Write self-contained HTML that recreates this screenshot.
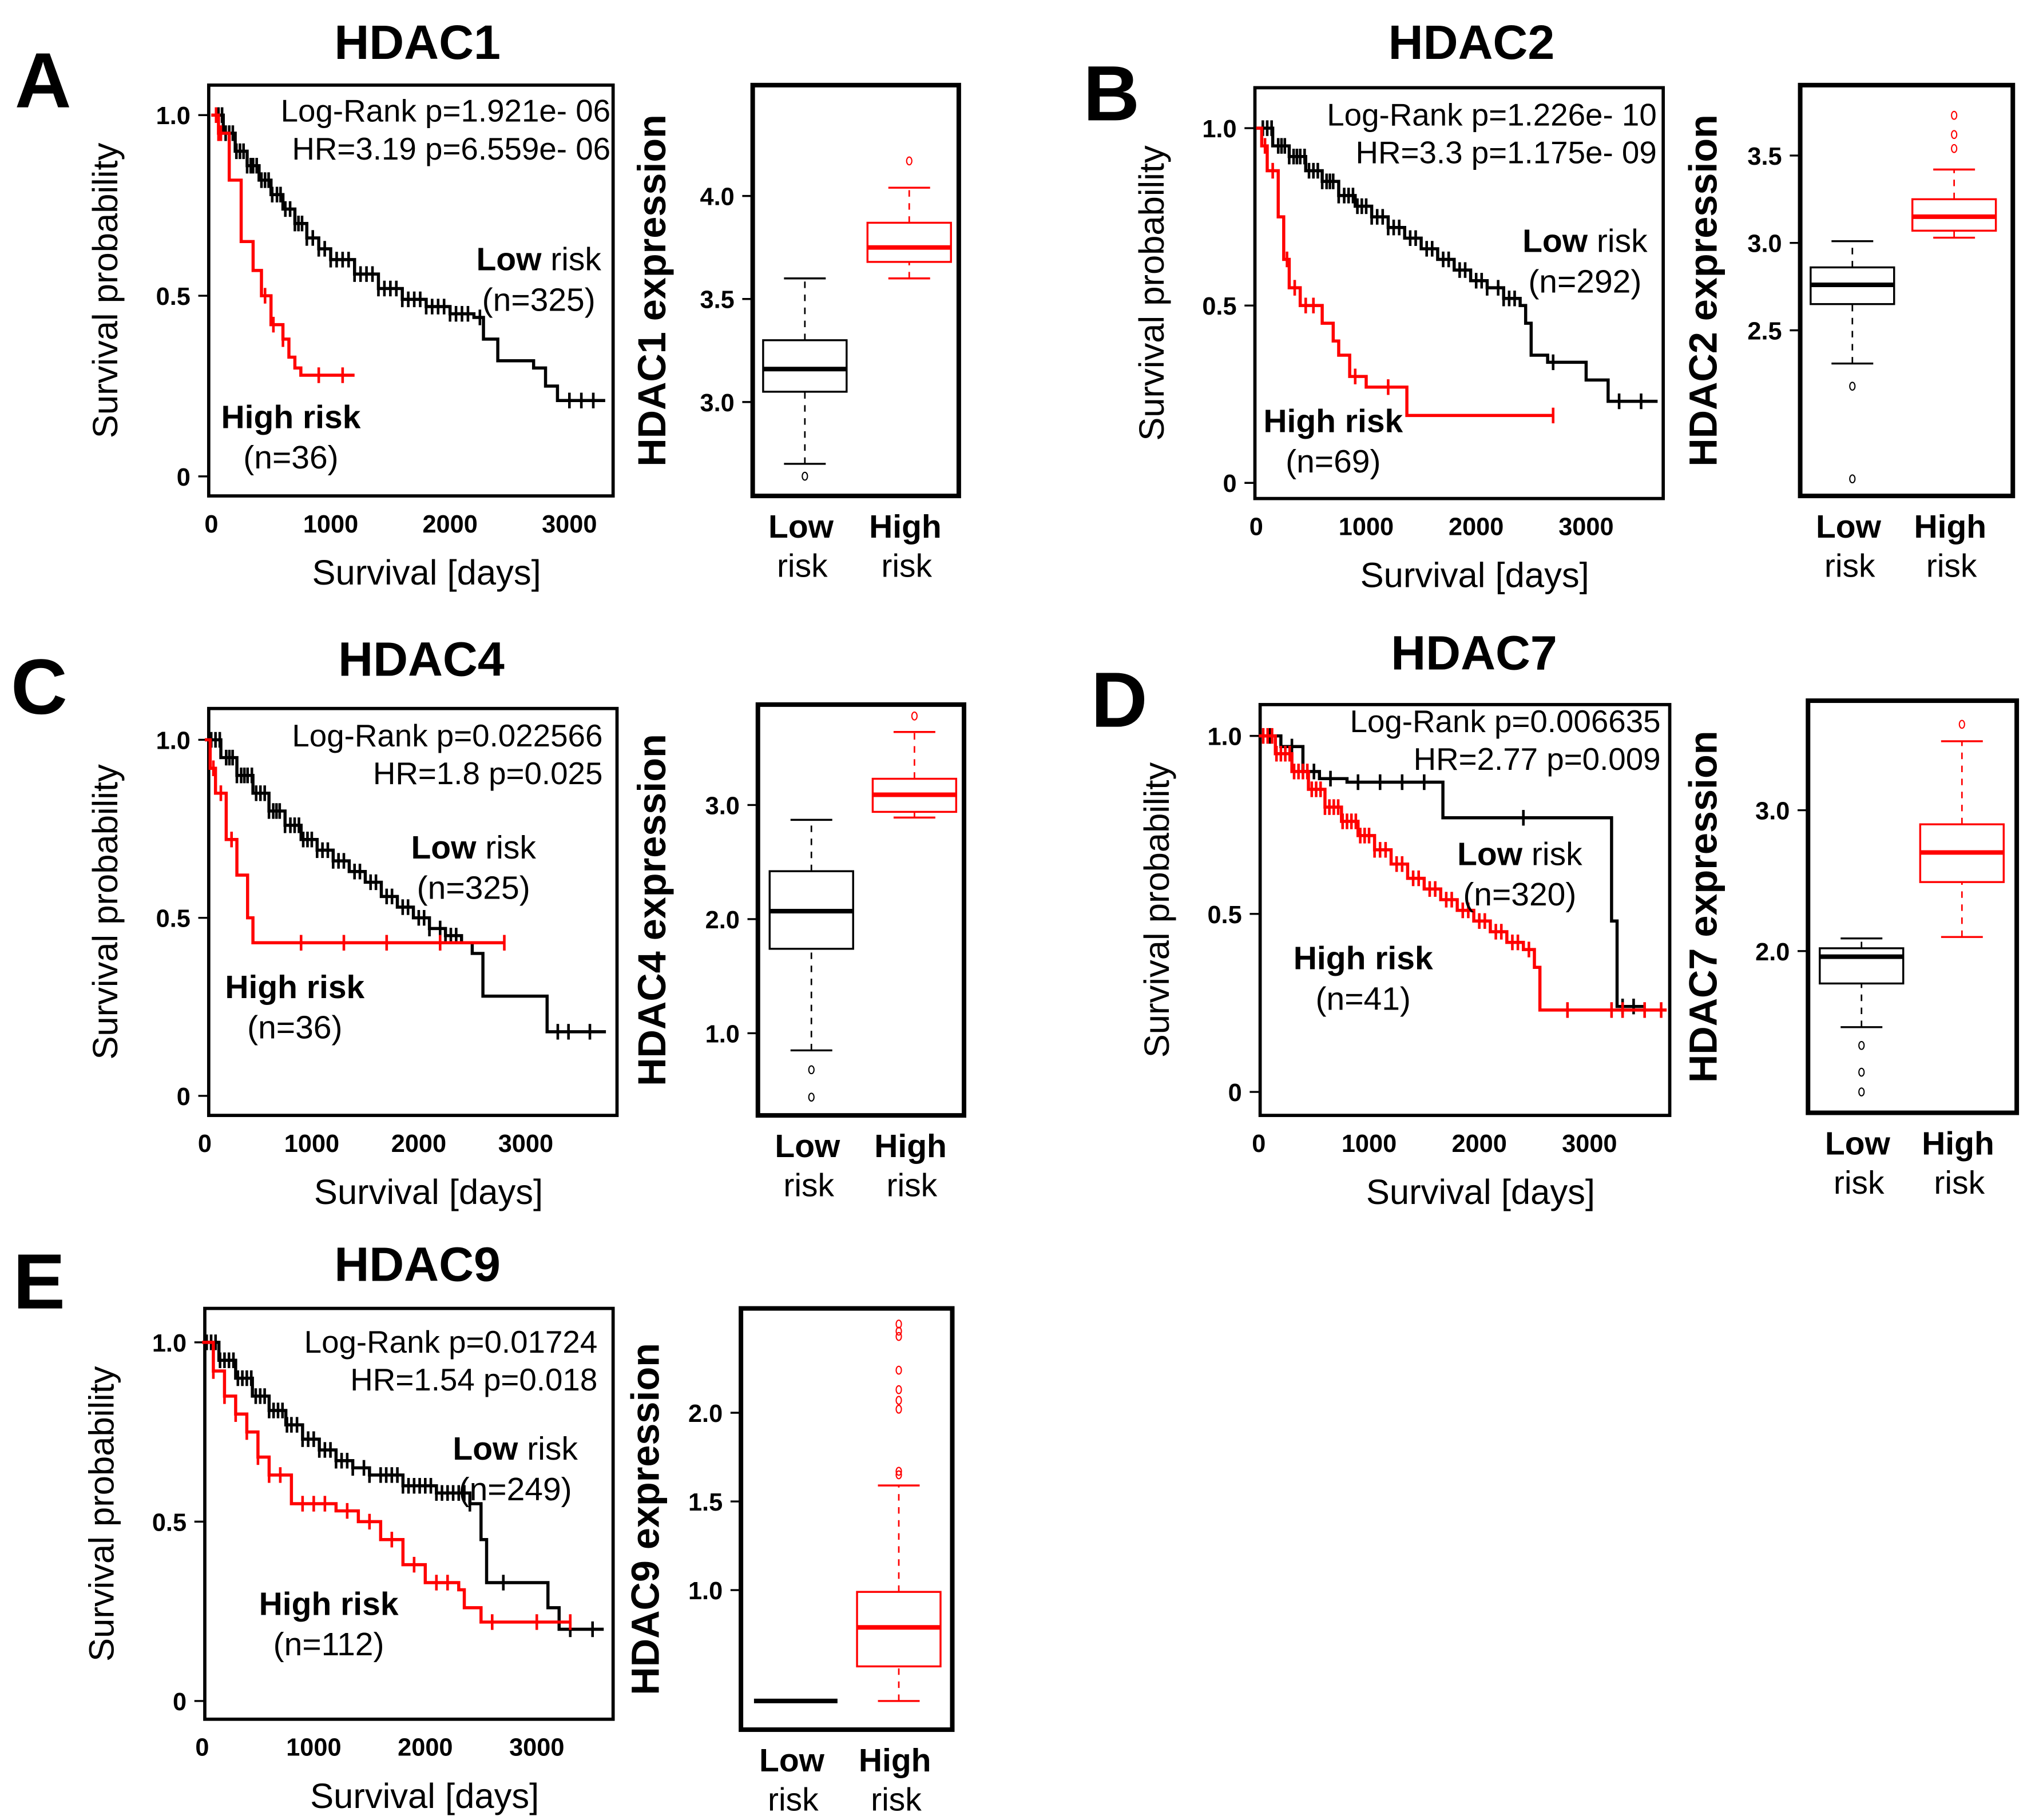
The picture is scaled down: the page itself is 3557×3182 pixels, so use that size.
<!DOCTYPE html>
<html><head><meta charset="utf-8">
<style>
html,body{margin:0;padding:0;background:#fff;}
svg{display:block;font-family:"Liberation Sans",Arial,sans-serif;}
</style></head>
<body>
<svg id="fig" xmlns="http://www.w3.org/2000/svg" width="3557" height="3182" viewBox="0 0 1560 1395">
<rect x="0" y="0" width="1560" height="1395" fill="#fff"/>
</svg>
<script>
// ---------- DATA ----------
const hdac1Low = [[0,1],[100,0.95],[200,0.9],[300,0.86],[400,0.82],[500,0.78],[600,0.74],[700,0.7],[800,0.66],[900,0.63],[1000,0.6],[1200,0.56],[1400,0.52],[1600,0.49],[1800,0.47],[2000,0.45],[2200,0.44],[2280,0.38],[2400,0.32],[2700,0.3],[2800,0.25],[2900,0.21],[3300,0.21]];
const hdac1High = [[0,1],[60,0.95],[150,0.82],[250,0.65],[350,0.57],[420,0.5],[500,0.42],[600,0.38],[650,0.33],[700,0.3],[750,0.28],[1200,0.28]];
const hdac1LowCens = [60,90,120,150,180,210,240,270,300,330,350,380,420,450,480,510,550,580,620,660,700,730,760,800,850,900,950,1000,1050,1100,1150,1200,1250,1300,1350,1400,1450,1500,1550,1600,1650,1700,1750,1800,1850,1900,1950,2000,2050,2100,2150,2250,3000,3100,3200];
const hdac1HighCens = [40,60,80,450,520,600,900,1100];
const hdac2Low = [[0,1],[150,0.95],[300,0.92],[450,0.88],[600,0.85],[750,0.81],[900,0.78],[1050,0.75],[1200,0.72],[1350,0.69],[1500,0.66],[1650,0.63],[1800,0.6],[1950,0.57],[2100,0.55],[2250,0.52],[2400,0.5],[2450,0.45],[2500,0.36],[2650,0.34],[3000,0.29],[3200,0.23],[3650,0.23]];
const hdac2High = [[0,1],[50,0.95],[100,0.88],[200,0.75],[250,0.63],[300,0.55],[400,0.5],[600,0.45],[700,0.4],[750,0.36],[850,0.3],[1000,0.27],[1350,0.27],[1370,0.19],[2700,0.19]];
const hdac2LowCens = [60,100,140,200,230,260,300,340,370,400,440,480,520,560,600,640,670,700,750,800,840,880,920,960,1000,1050,1100,1150,1200,1250,1300,1400,1450,1550,1600,1700,1750,1850,1900,2000,2050,2100,2200,2250,2300,2350,2700,3300,3500];
const hdac2HighCens = [80,150,280,350,450,520,900,1200,2700];
const hdac4Low = [[0,1],[150,0.95],[300,0.9],[450,0.85],[600,0.8],[750,0.76],[900,0.72],[1050,0.69],[1200,0.66],[1350,0.63],[1500,0.6],[1650,0.56],[1800,0.53],[1950,0.5],[2100,0.47],[2250,0.45],[2400,0.43],[2500,0.4],[2600,0.28],[2900,0.28],[3200,0.18],[3750,0.18]];
const hdac4High = [[0,1],[50,0.92],[100,0.85],[200,0.72],[300,0.62],[400,0.5],[450,0.43],[2800,0.43]];
const hdac4LowCens = [60,100,140,200,230,260,300,340,370,400,440,480,520,560,600,640,670,700,750,800,840,880,920,960,1000,1050,1100,1150,1200,1250,1300,1400,1450,1550,1600,1700,1750,1850,1900,2000,2050,2100,2200,2250,2300,2350,3300,3400,3600];
const hdac4HighCens = [80,150,250,900,1300,1700,2200,2800];
const hdac7Low = [[0,1],[200,0.97],[400,0.9],[550,0.88],[800,0.87],[1650,0.87],[1670,0.77],[3150,0.77],[3200,0.48],[3250,0.24],[3500,0.24]];
const hdac7High = [[0,1],[150,0.95],[300,0.9],[450,0.85],[600,0.8],[750,0.76],[900,0.72],[1050,0.68],[1200,0.64],[1350,0.6],[1500,0.57],[1650,0.54],[1800,0.51],[1950,0.48],[2100,0.45],[2250,0.42],[2400,0.4],[2500,0.35],[2550,0.23],[3700,0.23]];
const hdac7LowCens = [100,300,500,650,900,1100,1300,1500,2400,3300,3400];
const hdac7HighCens = [40,80,120,160,200,240,280,320,360,400,440,480,520,560,600,640,680,720,760,800,840,880,920,960,1000,1050,1100,1150,1250,1300,1400,1450,1550,1600,1700,1750,1850,1900,2000,2050,2150,2200,2300,2350,2450,2800,3200,3300,3500,3650];
const hdac9Low = [[0,1],[150,0.95],[300,0.9],[450,0.85],[600,0.81],[750,0.77],[900,0.73],[1050,0.7],[1200,0.67],[1350,0.65],[1500,0.63],[1800,0.6],[2100,0.58],[2400,0.55],[2500,0.45],[2550,0.33],[3000,0.33],[3100,0.26],[3200,0.2],[3600,0.2]];
const hdac9High = [[0,1],[100,0.92],[200,0.85],[300,0.8],[400,0.75],[500,0.68],[600,0.63],[800,0.55],[1200,0.53],[1400,0.5],[1600,0.45],[1800,0.38],[2000,0.33],[2300,0.31],[2350,0.26],[2500,0.22],[3300,0.22]];
const hdac9LowCens = [40,80,120,160,200,240,280,320,360,400,440,480,520,560,600,640,680,720,760,800,850,900,950,1000,1050,1100,1150,1200,1250,1300,1350,1450,1500,1600,1650,1700,1750,1800,1850,1900,1950,2000,2050,2100,2150,2200,2250,2300,2350,2400,2700,3300,3500];
const hdac9HighCens = [100,200,300,400,500,600,700,900,1000,1100,1300,1500,1700,1900,2100,2200,2600,3000,3300];
// box stats: [lowWhisker, q1, median, q3, highWhisker]
const hdac1BoxLow = [2.70,3.05,3.16,3.30,3.60];  const hdac1OutLow = [2.64];
const hdac1BoxHigh = [3.60,3.68,3.75,3.87,4.04]; const hdac1OutHigh = [4.17];
const hdac2BoxLow = [2.31,2.65,2.76,2.86,3.01];  const hdac2OutLow = [2.18,1.65];
const hdac2BoxHigh = [3.03,3.07,3.15,3.25,3.42]; const hdac2OutHigh = [3.73,3.62,3.54];
const hdac4BoxLow = [0.85,1.74,2.07,2.42,2.87];  const hdac4OutLow = [0.68,0.44];
const hdac4BoxHigh = [2.89,2.94,3.09,3.23,3.64]; const hdac4OutHigh = [3.78];
const hdac7BoxLow = [1.46,1.77,1.96,2.02,2.09];  const hdac7OutLow = [1.33,1.14,1.0];
const hdac7BoxHigh = [2.10,2.49,2.70,2.90,3.49]; const hdac7OutHigh = [3.61];
const hdac9BoxLow = [0.375,0.375,0.375,0.375,0.375]; const hdac9OutLow = [];
const hdac9BoxHigh = [0.375,0.57,0.79,0.99,1.59]; const hdac9OutHigh = [1.67,1.65,2.13,2.07,2.02,2.24,2.5,2.46,2.43];
const kmTicksX = [0,1000,2000,3000];
const kmTickLabelsY = ["0","0.5","1.0"];

// ---------- DRAW ----------
const NS="http://www.w3.org/2000/svg";
const svg=document.getElementById('fig');
function mk(tag,attrs,parent){const e=document.createElementNS(NS,tag);for(const k in attrs)e.setAttribute(k,attrs[k]);(parent||svg).appendChild(e);return e;}
function txt(s,x,y,size,weight,anchor,parent,rot){const e=mk('text',{x:x,y:y,'font-size':size,'font-weight':weight||'normal','text-anchor':anchor||'middle',fill:'#000'},parent);if(rot)e.setAttribute('transform','rotate(-90 '+x+' '+y+')');e.textContent=s;return e;}

const panels=[
 {id:'hdac1',L:'A',Lx:33,Ly:82,title:'HDAC1',tx:320,ty:45,
  km:{x1:160,y1:65,x2:470,y2:380,x0:162,dx:0.0915,y0:365,yh:277},low:hdac1Low,high:hdac1High,lc:hdac1LowCens,hc:hdac1HighCens,
  txt1:'Log-Rank p=1.921e- 06',txt2:'HR=3.19 p=6.559e- 06',tr:468,t1y:93,lowx:413,lowy:207,nlow:'(n=325)',highx:223,highy:328,nhigh:'(n=36)',
  bx:{x1:577,y1:65,x2:735,y2:380,v0:3.0,p0:308,v1:4.0,p1:150,ticks:[3.0,3.5,4.0],cl:617,ch:697},bl:hdac1BoxLow,bh:hdac1BoxHigh,ol:hdac1OutLow,oh:hdac1OutHigh,ylab:'HDAC1 expression',ylx:510},
 {id:'hdac2',L:'B',Lx:852,Ly:92,title:'HDAC2',tx:1128,ty:45,
  km:{x1:962,y1:67,x2:1275,y2:382,x0:963,dx:0.0843,y0:370,yh:272},low:hdac2Low,high:hdac2High,lc:hdac2LowCens,hc:hdac2HighCens,
  txt1:'Log-Rank p=1.226e- 10',txt2:'HR=3.3 p=1.175e- 09',tr:1270,t1y:96,lowx:1215,lowy:193,nlow:'(n=292)',highx:1022,highy:331,nhigh:'(n=69)',
  bx:{x1:1380,y1:65,x2:1543,y2:380,v0:3.0,p0:186,v1:3.5,p1:119,ticks:[2.5,3.0,3.5],cl:1420,ch:1498},bl:hdac2BoxLow,bh:hdac2BoxHigh,ol:hdac2OutLow,oh:hdac2OutHigh,ylab:'HDAC2 expression',ylx:1316},
 {id:'hdac4',L:'C',Lx:30,Ly:547,title:'HDAC4',tx:323,ty:518,
  km:{x1:160,y1:543,x2:473,y2:855,x0:157,dx:0.0820,y0:840,yh:273},low:hdac4Low,high:hdac4High,lc:hdac4LowCens,hc:hdac4HighCens,
  txt1:'Log-Rank p=0.022566',txt2:'HR=1.8 p=0.025',tr:462,t1y:572,lowx:363,lowy:658,nlow:'(n=325)',highx:226,highy:765,nhigh:'(n=36)',
  bx:{x1:581,y1:540,x2:739,y2:855,v0:1.0,p0:792,v1:3.0,p1:617,ticks:[1.0,2.0,3.0],cl:622,ch:701},bl:hdac4BoxLow,bh:hdac4BoxHigh,ol:hdac4OutLow,oh:hdac4OutHigh,ylab:'HDAC4 expression',ylx:510},
 {id:'hdac7',L:'D',Lx:858,Ly:557,title:'HDAC7',tx:1130,ty:513,
  km:{x1:966,y1:540,x2:1280,y2:855,x0:965,dx:0.0845,y0:837,yh:273},low:hdac7Low,high:hdac7High,lc:hdac7LowCens,hc:hdac7HighCens,
  txt1:'Log-Rank p=0.006635',txt2:'HR=2.77 p=0.009',tr:1273,t1y:561,lowx:1165,lowy:663,nlow:'(n=320)',highx:1045,highy:743,nhigh:'(n=41)',
  bx:{x1:1386,y1:537,x2:1546,y2:853,v0:2.0,p0:729,v1:3.0,p1:621,ticks:[2.0,3.0],cl:1427,ch:1504},bl:hdac7BoxLow,bh:hdac7BoxHigh,ol:hdac7OutLow,oh:hdac7OutHigh,ylab:'HDAC7 expression',ylx:1316},
 {id:'hdac9',L:'E',Lx:30,Ly:1003,title:'HDAC9',tx:320,ty:982,
  km:{x1:157,y1:1003,x2:470,y2:1318,x0:155,dx:0.0855,y0:1304,yh:275},low:hdac9Low,high:hdac9High,lc:hdac9LowCens,hc:hdac9HighCens,
  txt1:'Log-Rank p=0.01724',txt2:'HR=1.54 p=0.018',tr:458,t1y:1037,lowx:395,lowy:1119,nlow:'(n=249)',highx:252,highy:1238,nhigh:'(n=112)',
  bx:{x1:568,y1:1003,x2:730,y2:1326,v0:1.0,p0:1219,v1:2.0,p1:1083,ticks:[1.0,1.5,2.0],cl:610,ch:689},bl:hdac9BoxLow,bh:hdac9BoxHigh,ol:hdac9OutLow,oh:hdac9OutHigh,ylab:'HDAC9 expression',ylx:505}
];

function survAt(curve,t){let s=curve[0][1];for(const p of curve){if(p[0]<=t)s=p[1];}return s;}

panels.forEach(p=>{
  const g=mk('g',{});
  
  
  const lt=txt(p.L,p.Lx,p.Ly,60,'bold','middle',g);
  
  
  const tt=txt(p.title,p.tx,p.ty,37,'bold','middle',g);
  
  

  const k=p.km;
  const X=t=>k.x0+t*k.dx, Y=s=>k.y0-s*k.yh;
  const frame=mk('rect',{x:k.x1,y:k.y1,width:k.x2-k.x1,height:k.y2-k.y1,fill:'none',stroke:'#000','stroke-width':2.5},g);
  
  
  [0,0.5,1].forEach((v,i)=>{
    mk('line',{x1:k.x1-8,x2:k.x1,y1:Y(v),y2:Y(v),stroke:'#000','stroke-width':1.5},g);
    const tl=txt(kmTickLabelsY[i],k.x1-14,Y(v)+7,19,'bold','end',g);
    
    
  });
  kmTicksX.forEach(v=>{
    const tl=txt(String(v),X(v),k.y2+28,19,'bold','middle',g);
    
    
  });
  const yl=txt('Survival probability',k.x1-70,(k.y1+k.y2)/2,27,'normal','middle',g,true);
  
  
  const xl=txt('Survival [days]',(k.x1+k.x2)/2+12,k.y2+68,27,'normal','middle',g);
  
  

  [[p.low,p.lc,'#000','low'],[p.high,p.hc,'#f00','high']].forEach(([c,cens,col,nm])=>{
    let d='M'+X(c[0][0])+' '+Y(c[0][1]);
    for(let i=1;i<c.length;i++){d+=' H'+X(c[i][0])+' V'+Y(c[i][1]);}
    const last=c[c.length-1];d+=' H'+X(last[0]);
    const path=mk('path',{d:d,fill:'none',stroke:col,'stroke-width':2.4},g);
    
    
    cens.forEach(t=>{
      const cm=mk('line',{x1:X(t),x2:X(t),y1:Y(survAt(c,t))-6,y2:Y(survAt(c,t))+6,stroke:col,'stroke-width':2},g);
      
      
    });
  });
  const a1=txt(p.txt1,p.tr,p.t1y,24,'normal','end',g);
  
  
  const a2=txt(p.txt2,p.tr,p.t1y+29,24,'normal','end',g);
  
  
  const lo=mk('text',{x:p.lowx,y:p.lowy,'font-size':25,'text-anchor':'middle'},g);
  
  
  lo.innerHTML='<tspan font-weight="bold">Low</tspan> risk';
  const ln=txt(p.nlow,p.lowx,p.lowy+31,25,'normal','middle',g);
  
  
  const hi=txt('High risk',p.highx,p.highy,25,'bold','middle',g);
  
  
  const hn=txt(p.nhigh,p.highx,p.highy+31,25,'normal','middle',g);
  
  

  const b=p.bx;
  const V=v=>b.p0+(v-b.v0)*(b.p1-b.p0)/(b.v1-b.v0);
  const bf=mk('rect',{x:b.x1,y:b.y1,width:b.x2-b.x1,height:b.y2-b.y1,fill:'none',stroke:'#000','stroke-width':3.5},g);
  
  
  b.ticks.forEach(v=>{
    mk('line',{x1:b.x1-8,x2:b.x1,y1:V(v),y2:V(v),stroke:'#000','stroke-width':1.5},g);
    const tl=txt(v.toFixed(1),b.x1-14,V(v)+7,19,'bold','end',g);
    
    
  });
  const el=txt(p.ylab,p.ylx,(b.y1+b.y2)/2,30,'bold','middle',g,true);
  
  
  [[p.bl,p.ol,b.cl,'#000','low'],[p.bh,p.oh,b.ch,'#f00','high']].forEach(([s,outs,cx,col,nm])=>{
    const bg=mk('g',{},g);
    
    
    const w=32;
    if(s[0]===s[4]){
      mk('line',{x1:cx-w,x2:cx+w,y1:V(s[2]),y2:V(s[2]),stroke:col,'stroke-width':3.5},bg);
    } else {
      mk('line',{x1:cx,x2:cx,y1:V(s[0]),y2:V(s[1]),stroke:col,'stroke-width':1.2,'stroke-dasharray':'5,5'},bg);
      mk('line',{x1:cx,x2:cx,y1:V(s[3]),y2:V(s[4]),stroke:col,'stroke-width':1.2,'stroke-dasharray':'5,5'},bg);
      mk('line',{x1:cx-16,x2:cx+16,y1:V(s[0]),y2:V(s[0]),stroke:col,'stroke-width':1.5},bg);
      mk('line',{x1:cx-16,x2:cx+16,y1:V(s[4]),y2:V(s[4]),stroke:col,'stroke-width':1.5},bg);
      mk('rect',{x:cx-w,y:V(s[3]),width:2*w,height:V(s[1])-V(s[3]),fill:'#fff',stroke:col,'stroke-width':1.5},bg);
      mk('line',{x1:cx-w,x2:cx+w,y1:V(s[2]),y2:V(s[2]),stroke:col,'stroke-width':3.5},bg);
    }
    outs.forEach(v=>{
      const o=mk('ellipse',{cx:cx,cy:V(v),rx:2,ry:3,fill:'none',stroke:col,'stroke-width':0.9},bg);
      
      
    });
    const c1=txt(nm==='low'?'Low':'High',cx-3,b.y2+32,25,'bold','middle',g);
    
    
    const c2=txt('risk',cx-2,b.y2+62,25,'normal','middle',g);
    
    
  });
});
</script>
</body></html>
